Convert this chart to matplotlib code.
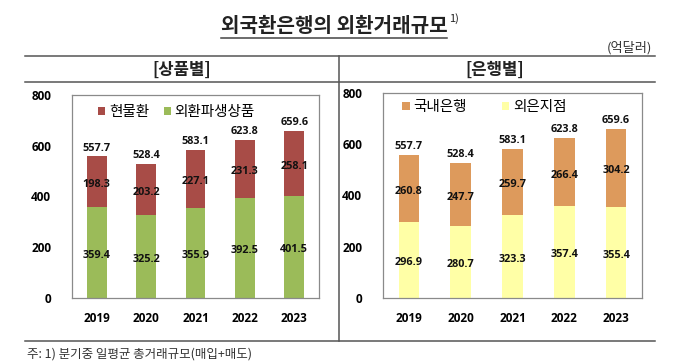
import matplotlib
matplotlib.use("Agg")
import matplotlib.pyplot as plt
from matplotlib.lines import Line2D
from matplotlib.patches import Patch
import numpy as np

plt.rcParams['font.family'] = ['Noto Sans CJK KR', 'DejaVu Sans']

# ---------------- data ----------------
years = ['2019', '2020', '2021', '2022', '2023']
spot = [198.3, 203.2, 227.1, 231.3, 258.1]          # 현물환
deriv = [359.4, 325.2, 355.9, 392.5, 401.5]         # 외환파생상품
totals = [557.7, 528.4, 583.1, 623.8, 659.6]
domestic = [260.8, 247.7, 259.7, 266.4, 304.2]      # 국내은행
foreign = [296.9, 280.7, 323.3, 357.4, 355.4]       # 외은지점
yticks = [0, 200, 400, 600, 800]

W, H = 680, 364
fig = plt.figure(figsize=(W / 100, H / 100), dpi=100)
fig.patch.set_facecolor('white')


def fx(x):
    return x / W


def fy(y):
    return 1 - y / H


NUM_FONT = 'Open Sans'
RED = '#A84C47'
GREEN = '#9BBB59'
ORANGE = '#DD9A5C'
YELLOW = '#FFFFA6'
FRAME = '#8a8a8a'


def make_chart(rect, bottom_vals, top_vals, total_vals, c_bottom, c_top,
               lab_bottom, lab_top, leg_anchor, colspace):
    ax = fig.add_axes(rect)
    x = np.arange(len(years))
    ax.bar(x, bottom_vals, width=0.4, color=c_bottom, zorder=2)
    ax.bar(x, top_vals, width=0.4, bottom=bottom_vals, color=c_top, zorder=2)
    ax.set_xlim(-0.5, len(years) - 0.5)
    ax.set_ylim(0, 800)
    ax.set_yticks(yticks)
    ax.set_yticklabels([str(v) for v in yticks], fontfamily=NUM_FONT,
                       fontweight='bold', fontsize=8.5)
    ax.set_xticks(x)
    ax.set_xticklabels(years, fontfamily=NUM_FONT, fontweight='bold', fontsize=8.5)
    ax.tick_params(axis='both', length=0)
    ax.tick_params(axis='y', pad=15)
    ax.tick_params(axis='x', pad=10)
    for s in ax.spines.values():
        s.set_color(FRAME)
        s.set_linewidth(0.9)
    for i in range(len(years)):
        ax.annotate(f'{bottom_vals[i]:.1f}', (x[i], bottom_vals[i] / 2),
                    xytext=(0, -2), textcoords='offset points', ha='center',
                    va='center', fontfamily=NUM_FONT, fontweight='bold',
                    fontsize=7.8, color='#111111', zorder=3)
        ax.annotate(f'{top_vals[i]:.1f}', (x[i], bottom_vals[i] + top_vals[i] / 2),
                    xytext=(0, -2), textcoords='offset points', ha='center',
                    va='center', fontfamily=NUM_FONT, fontweight='bold',
                    fontsize=7.8, color='#111111', zorder=3)
        ax.annotate(f'{total_vals[i]:.1f}', (x[i], bottom_vals[i] + top_vals[i]),
                    xytext=(0, 2), textcoords='offset points', ha='center',
                    va='bottom', fontfamily=NUM_FONT, fontweight='bold',
                    fontsize=7.8, color='#111111', zorder=3)
    handles = [Patch(facecolor=c_top, edgecolor='none'),
               Patch(facecolor=c_bottom, edgecolor='none')]
    ax.legend(handles, [lab_top, lab_bottom], ncol=2, frameon=False,
              loc='center left', bbox_to_anchor=leg_anchor,
              handlelength=0.5, handleheight=0.5, handletextpad=0.25,
              columnspacing=colspace, borderaxespad=0, borderpad=0,
              prop={'size': 10.5})
    return ax


make_chart([fx(72), fy(298), (319 - 72) / W, (298 - 95) / H],
           deriv, spot, totals, GREEN, RED, '외환파생상품', '현물환',
           (0.105, 0.916), 1.0)
make_chart([fx(383), fy(298), (642 - 383) / W, (298 - 93) / H],
           foreign, domestic, totals, YELLOW, ORANGE, '외은지점', '국내은행',
           (0.075, 0.93), 2.4)

# ---------------- frame lines ----------------
LC = '#555555'
for y in (56, 82, 341):
    fig.add_artist(Line2D([fx(25), fx(655)], [fy(y), fy(y)], color=LC, lw=1.1))
fig.add_artist(Line2D([fx(339), fx(339)], [fy(56), fy(341)], color=LC, lw=1.1))

# ---------------- texts ----------------
title = fig.text(fx(334), fy(25), '외국환은행의 외환거래규모', ha='center', va='center',
                 fontsize=14.5, fontweight='bold', color='#222222')
fig.canvas.draw()
bb = title.get_window_extent(renderer=fig.canvas.get_renderer())
x0, x1 = bb.x0 / W, bb.x1 / W
fig.add_artist(Line2D([x0, x1], [fy(38), fy(38)], color='#444444', lw=1.1))
fig.text(x1 + fx(2), fy(19), '1)', ha='left', va='center', fontsize=8,
         color='#222222')

fig.text(fx(652), fy(48), '(억달러)', ha='right', va='center', fontsize=9.5,
         color='#333333')
fig.text(fx(182), fy(70), '[상품별]', ha='center', va='center', fontsize=12,
         fontweight='bold', color='#222222')
fig.text(fx(495), fy(70), '[은행별]', ha='center', va='center', fontsize=12,
         fontweight='bold', color='#222222')
fig.text(fx(27), fy(354), '주: 1) 분기중 일평균 총거래규모(매입+매도)', ha='left',
         va='center', fontsize=9, color='#333333')

fig.savefig('out.png', dpi=100, facecolor='white')
